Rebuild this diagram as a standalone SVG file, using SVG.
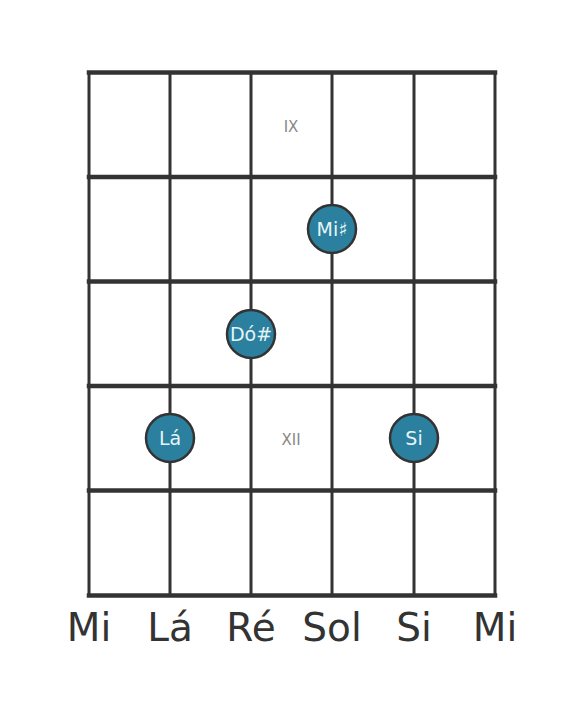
<svg xmlns="http://www.w3.org/2000/svg" width="584" height="711" viewBox="0 0 584 711">
<style>
.fret{stroke:#333;stroke-width:4.5;stroke-linecap:square}
.str{stroke:#333;stroke-width:3}
.dot{fill:#2a809e;stroke:#333;stroke-width:2.5}
.nt{font-family:"DejaVu Sans",sans-serif;font-size:19px;fill:#e6f4f8;text-anchor:middle}
.pos{font-family:"DejaVu Sans",sans-serif;font-size:15px;fill:#888;text-anchor:middle}
.lbl{font-family:"DejaVu Sans",sans-serif;font-size:39px;fill:#333;text-anchor:middle}
</style>
<rect width="584" height="711" fill="#fff"/>
<g id="grid">
<line class="str" x1="89" y1="72" x2="89" y2="596"/>
<line class="str" x1="170" y1="72" x2="170" y2="596"/>
<line class="str" x1="251" y1="72" x2="251" y2="596"/>
<line class="str" x1="332" y1="72" x2="332" y2="596"/>
<line class="str" x1="414" y1="72" x2="414" y2="596"/>
<line class="str" x1="495" y1="72" x2="495" y2="596"/>
<line class="fret" x1="89" y1="72.5" x2="495" y2="72.5"/>
<line class="fret" x1="89" y1="177" x2="495" y2="177"/>
<line class="fret" x1="89" y1="281.5" x2="495" y2="281.5"/>
<line class="fret" x1="89" y1="386" x2="495" y2="386"/>
<line class="fret" x1="89" y1="490.5" x2="495" y2="490.5"/>
<line class="fret" x1="89" y1="595.5" x2="495" y2="595.5"/>
</g>
<g id="positions">
<text class="pos" x="291" y="131.5">IX</text>
<text class="pos" x="291" y="444.5">XII</text>
</g>
<g id="node-mis"><circle class="dot" cx="332" cy="229" r="24"/><text class="nt" x="332" y="236">Mi♯</text></g>
<g id="node-dos"><circle class="dot" cx="251" cy="334" r="24"/><text class="nt" x="251" y="341">Dó#</text></g>
<g id="node-la"><circle class="dot" cx="170" cy="438" r="24"/><text class="nt" x="170" y="445">Lá</text></g>
<g id="node-si"><circle class="dot" cx="414" cy="438" r="24"/><text class="nt" x="414" y="445">Si</text></g>
<g id="labels">
<text class="lbl" x="89" y="641">Mi</text>
<text class="lbl" x="170" y="641">Lá</text>
<text class="lbl" x="251" y="641">Ré</text>
<text class="lbl" x="332" y="641">Sol</text>
<text class="lbl" x="414" y="641">Si</text>
<text class="lbl" x="495" y="641">Mi</text>
</g>
</svg>
